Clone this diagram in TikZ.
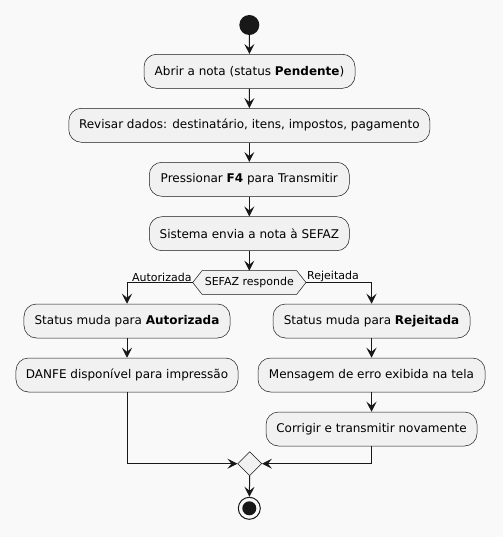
\documentclass[tikz,border=0pt]{standalone}
\usepackage{fontspec}
\setmainfont{DejaVu Sans}
\usetikzlibrary{arrows.meta,shapes.geometric}
\definecolor{bg}{HTML}{F9F9F9}
\definecolor{boxfill}{HTML}{F1F1F1}
\definecolor{ink}{HTML}{181818}
\tikzset{
  act/.style={draw=ink, line width=0.5bp, fill=boxfill, rounded corners=12.5bp,
    minimum height=34bp, inner sep=0pt, font=\fontsize{12bp}{14bp}\selectfont},
  arr/.style={draw=ink, line width=1bp, -{Stealth[length=10bp,width=10bp,inset=4bp]}},
  lbl/.style={font=\fontsize{11bp}{13bp}\selectfont, inner sep=1bp},
}
\begin{document}
\begin{tikzpicture}[x=1bp,y=-1bp]
\fill[bg] (0,0) rectangle (503,537);
\useasboundingbox (0,0) rectangle (503,537);

\node[circle, fill=ink, minimum size=20bp, inner sep=0pt] (start) at (249.3,25) {};
\node[act, minimum width=211bp] (b1) at (249.5,71.3) {Abrir a nota (status \textbf{Pendente})};
\node[act, minimum width=361bp] (b2) at (249.3,125.3) {Revisar dados: destinatário, itens, impostos, pagamento};
\node[act, minimum width=200bp] (b3) at (249.3,179.3) {Pressionar \textbf{F4} para Transmitir};
\node[act, minimum width=200bp] (b4) at (249.3,233.7) {Sistema envia a nota à SEFAZ};

% decision hexagon
\coordinate (decL) at (192.7,282.5);
\coordinate (decR) at (306,282.5);
\coordinate (decT) at (249.3,270.7);
\draw[ink, line width=0.5bp, fill=boxfill] (decL) -- (202,270.7) -- (296.7,270.7) -- (decR) -- (296.7,294.3) -- (202,294.3) -- cycle;
\node[lbl, inner sep=0pt] (dec) at (249.3,282.5) {SEFAZ responde};

\node[act, minimum width=206bp] (b5) at (127,321) {Status muda para \textbf{Autorizada}};
\node[act, minimum width=222bp] (b6) at (127,375) {DANFE disponível para impressão};
\node[act, minimum width=197bp] (b7) at (371.5,321) {Status muda para \textbf{Rejeitada}};
\node[act, minimum width=227bp] (b8) at (371.5,375) {Mensagem de erro exibida na tela};
\node[act, minimum width=211bp] (b9) at (371.5,429) {Corrigir e transmitir novamente};

\node[diamond, draw=ink, line width=0.5bp, fill=boxfill, minimum width=24bp, minimum height=24bp, inner sep=0pt] (merge) at (249.7,463.7) {};
\node[circle, draw=ink, line width=1bp, fill=bg, minimum size=22bp, inner sep=0pt,
  path picture={\fill[ink] (path picture bounding box.center) circle (7bp);}] (stop) at (249.3,508.3) {};

\draw[arr] (start) -- (b1);
\draw[arr] (b1) -- (b2);
\draw[arr] (b2) -- (b3);
\draw[arr] (b3) -- (b4);
\draw[arr] (b4) -- (decT);
\draw[arr] (decL) -| (b5);
\draw[arr] (decR) -| (b7);
\node[lbl, anchor=south east] at (decL) {Autorizada};
\node[lbl, anchor=south west] at (decR) {Rejeitada};
\draw[arr] (b5) -- (b6);
\draw[arr] (b7) -- (b8);
\draw[arr] (b8) -- (b9);
\draw[arr] (b6) |- (merge);
\draw[arr] (b9) |- (merge);
\draw[arr] (merge) -- (stop);
\end{tikzpicture}
\end{document}
